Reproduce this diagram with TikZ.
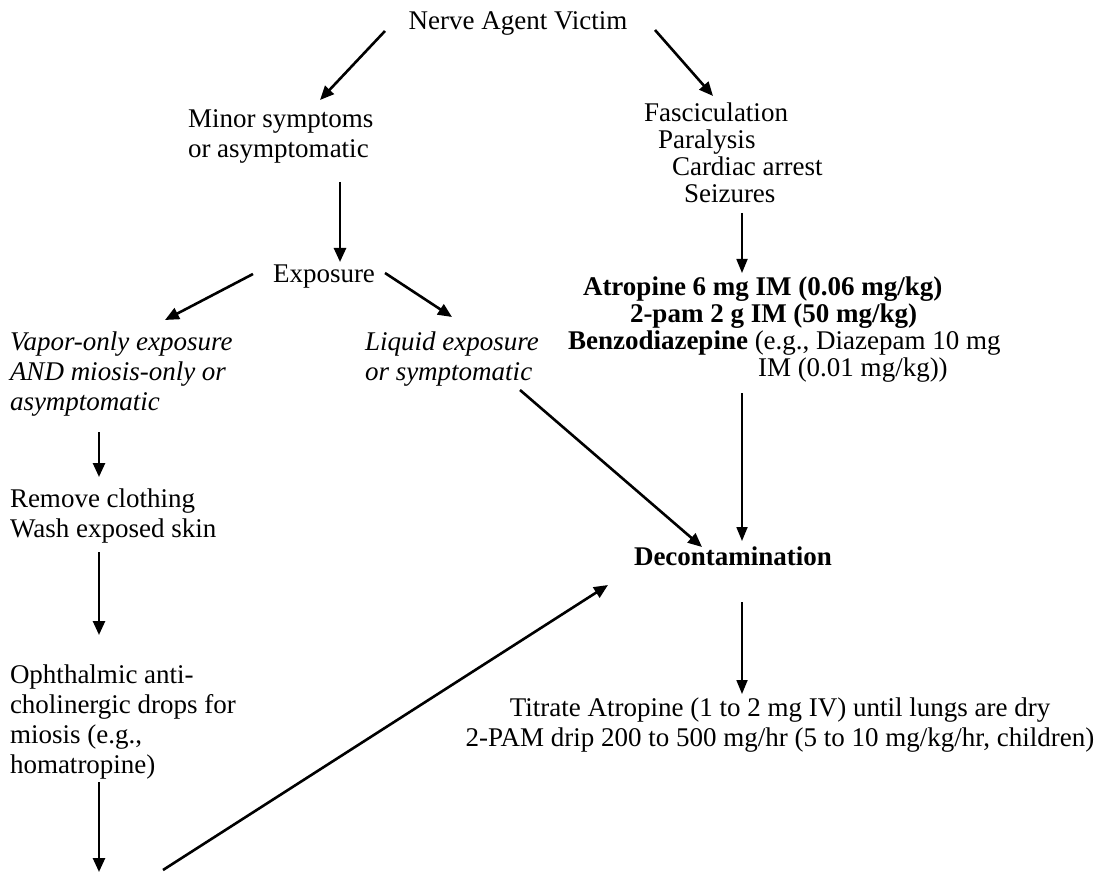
\documentclass[tikz,border=0pt]{standalone}
\usepackage{fontspec}
\setmainfont{Liberation Serif}
\usetikzlibrary{arrows.meta}
\newcommand{\mylines}[2][l]{\begin{tabular}[t]{@{}#1@{}}#2\end{tabular}}
\tikzset{
  txt/.style={inner sep=0pt, outer sep=0pt, font=\fontsize{27}{30}\selectfont},
  tight/.style={inner sep=0pt, outer sep=0pt, font=\fontsize{27}{27}\selectfont},
  arr/.style={line width=2.6pt, -{Triangle[length=14pt,width=12pt]}},
  thinarr/.style={line width=1.8pt, -{Triangle[length=14pt,width=11pt]}},
}
\begin{document}
\begin{tikzpicture}[x=1pt,y=-1pt]
\fill[white] (0,0) rectangle (1110,874);
\useasboundingbox (0,0) rectangle (1110,874);

\node[txt, anchor=base] (nav) at (518,30) {Nerve Agent Victim};
\node[txt, anchor=base west] (minor) at (188,128) {\mylines{Minor symptoms\\or asymptomatic}};
\node[tight, anchor=base west] (fasc) at (644,122) {\mylines{Fasciculation\\\hspace*{14pt}Paralysis\\\hspace*{28pt}Cardiac arrest\\\hspace*{40pt}Seizures}};
\node[txt, anchor=base west] (expo) at (273,283) {Exposure};
\node[txt, anchor=base west] (vapor) at (10,350) {\mylines{\itshape Vapor-only exposure\\\itshape AND miosis-only or\\\itshape asymptomatic}};
\node[txt, anchor=base west] (liquid) at (365,350) {\mylines{\itshape Liquid exposure\\\itshape or symptomatic}};
\node[tight, anchor=base west] (atro) at (568,296) {\mylines{\hspace*{15pt}\textbf{Atropine 6 mg IM (0.06 mg/kg)}\\\hspace*{62pt}\textbf{2-pam 2 g IM (50 mg/kg)}\\\textbf{Benzodiazepine} (e.g., Diazepam 10 mg\\\hspace*{190pt}IM (0.01 mg/kg))}};
\node[txt, anchor=base] (decon) at (733,565) {\textbf{Decontamination}};
\node[txt, anchor=base west] (remove) at (10,507) {\mylines{Remove clothing\\Wash exposed skin}};
\node[txt, anchor=base west] (ophth) at (10,683) {\mylines{Ophthalmic anti-\\cholinergic drops for\\miosis (e.g.,\\homatropine)}};
\node[txt, anchor=base] (titr) at (780,716) {\mylines[c]{Titrate Atropine (1 to 2 mg IV) until lungs are dry\\2-PAM drip 200 to 500 mg/hr (5 to 10 mg/kg/hr, children)}};

\coordinate (bot) at (99,872);
\coordinate (src) at (163,870);

\draw[arr] ([shift={(-133,1)}]nav.base) -- ([shift={(132,-28)}]minor.base west);
\draw[arr] ([shift={(137,0)}]nav.base) -- ([shift={(69,-26)}]fasc.base west);
\draw[arr] ([shift={(152,54)}]minor.base west) -- ([shift={(67,-21)}]expo.base west);
\draw[arr] ([shift={(-20,-9)}]expo.base west) -- ([shift={(155,-30)}]vapor.base west);
\draw[arr] ([shift={(112,-10)}]expo.base west) -- ([shift={(87,-33)}]liquid.base west);
\draw[thinarr] ([shift={(98,91)}]fasc.base west) -- ([shift={(174,-23)}]atro.base west);
\draw[arr] ([shift={(155,40)}]liquid.base west) -- ([shift={(-31,-18)}]decon.base);
\draw[thinarr] ([shift={(174,97)}]atro.base west) -- ([shift={(9,-24)}]decon.base);
\draw[arr] ([shift={(89,82)}]vapor.base west) -- ([shift={(89,-30)}]remove.base west);
\draw[arr] ([shift={(89,45)}]remove.base west) -- ([shift={(89,-48)}]ophth.base west);
\draw[arr] ([shift={(89,99)}]ophth.base west) -- (bot);
\draw[arr] (src) -- ([shift={(-125,20)}]decon.base);
\draw[thinarr] ([shift={(9,37)}]decon.base) -- ([shift={(-38,-22)}]titr.base);
\end{tikzpicture}
\end{document}
